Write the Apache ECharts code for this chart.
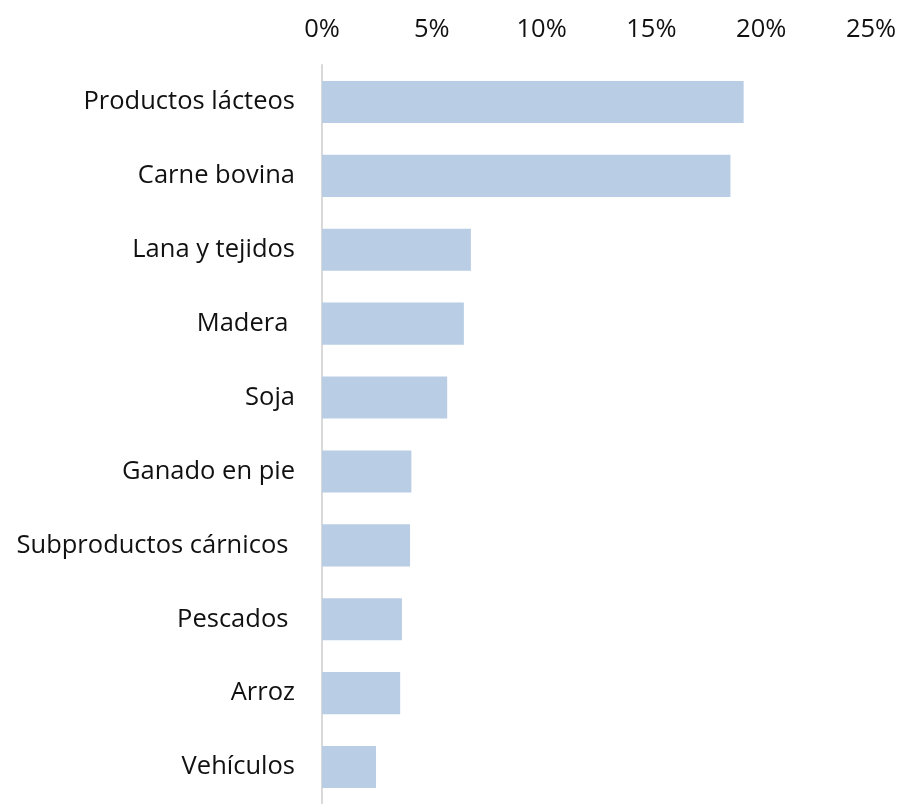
<!DOCTYPE html>
<html>
<head>
<meta charset="utf-8">
<script src="https://cdn.jsdelivr.net/npm/echarts@6/dist/echarts.min.js"></script>
<style>html,body{margin:0;padding:0;background:#fff}#c{width:901px;height:804px}</style>
</head>
<body>
<div id="c"></div>
<script>
const categories = ["Productos lácteos", "Carne bovina", "Lana y tejidos", "Madera ", "Soja", "Ganado en pie", "Subproductos cárnicos ", "Pescados ", "Arroz", "Vehículos"];
const values = [19.2, 18.6, 6.78, 6.46, 5.7, 4.07, 4.01, 3.64, 3.56, 2.46];
const xTicks = [0, 5, 10, 15, 20, 25];

const chart = echarts.init(document.getElementById('c'));
chart.setOption({
  animation: false,
  grid: { left: 322, right: 30, top: 65, height: 745, containLabel: false },
  xAxis: {
    type: 'value', position: 'top', min: xTicks[0], max: xTicks[xTicks.length - 1], interval: 5,
    axisLine: { show: false }, axisTick: { show: false }, splitLine: { show: false },
    axisLabel: { formatter: v => v + '%', fontFamily: 'Open Sans', fontSize: 25.5, color: '#111', margin: 22 }
  },
  yAxis: {
    type: 'category', data: categories, inverse: true,
    axisLine: { show: true, lineStyle: { color: '#d9d9d9', width: 2 } },
    axisTick: { show: false },
    axisLabel: { fontFamily: 'Open Sans', fontSize: 25.5, color: '#111', margin: 27 }
  },
  series: [{
    type: 'bar', data: values, barCategoryGap: '43%',
    itemStyle: { color: '#b9cde5' }
  }]
});
</script>
</body>
</html>
